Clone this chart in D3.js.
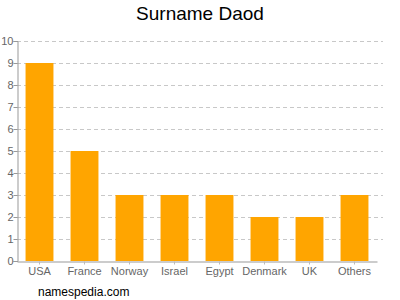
<!DOCTYPE html>
<meta charset="utf-8">
<style>
body { margin: 0; }
text { font-family: "Liberation Sans", Arial, sans-serif; }
</style>
<body>
<script src="https://d3js.org/d3.v7.min.js"></script>
<script>

// data
var countries = ["USA", "France", "Norway", "Israel", "Egypt", "Denmark", "UK", "Others"];
var counts = [9, 5, 3, 3, 3, 2, 2, 3];
var yTicks = [0, 1, 2, 3, 4, 5, 6, 7, 8, 9, 10];

var margin = {top: 41, right: 23, bottom: 39, left: 17},
    width = 400 - margin.left - margin.right,
    height = 300 - margin.top - margin.bottom;

var svg = d3.select("body").append("svg")
    .attr("width", 400)
    .attr("height", 300);

// title
svg.append("text")
    .attr("x", 200)
    .attr("y", 20)
    .attr("text-anchor", "middle")
    .style("font-size", "19px")
    .style("fill", "#000")
    .text("Surname Daod");

var g = svg.append("g")
    .attr("transform", `translate(${margin.left},${margin.top})`);

var x = d3.scaleBand()
    .domain(countries)
    .range([0, width])
    .paddingInner(0.38)
    .paddingOuter(0.19);

var y = d3.scaleLinear()
    .domain([0, 10])
    .range([height, 0]);

// gridlines
g.selectAll(".grid")
    .data(yTicks.filter(d => d > 0))
  .enter().append("line")
    .attr("x1", 0)
    .attr("x2", width + 6)
    .attr("y1", d => y(d) + 0.5)
    .attr("y2", d => y(d) + 0.5)
    .style("stroke", "#c8c8c8")
    .style("stroke-dasharray", "4,3");

// bars
g.selectAll(".bar")
    .data(counts)
  .enter().append("rect")
    .attr("x", (d, i) => x(countries[i]))
    .attr("y", d => y(d))
    .attr("width", x.bandwidth())
    .attr("height", d => height - y(d))
    .style("fill", "#ffa500");

// y axis
var yAxis = g.append("g")
    .attr("transform", "translate(0.5,0)")
    .call(d3.axisLeft(y).tickValues(yTicks).tickSize(4).tickFormat(d3.format("d")));
yAxis.select(".domain").attr("stroke", "#999");
yAxis.selectAll(".tick line").attr("stroke", "#999");
yAxis.selectAll("text").style("fill", "#666").style("font-size", "11px").attr("x", -4);

// x axis
var xAxis = g.append("g")
    .attr("transform", `translate(0,${height + 0.5})`)
    .call(d3.axisBottom(x).tickSize(3).tickSizeOuter(0));
xAxis.select(".domain").attr("stroke", "#999");
xAxis.selectAll(".tick line").attr("stroke", "#bbb");
xAxis.selectAll("text").style("fill", "#666").style("font-size", "11px").attr("y", 5).attr("dy", "0.8em");

// source
svg.append("text")
    .attr("x", 38)
    .attr("y", 296)
    .style("font-size", "12px")
    .style("fill", "#000")
    .text("namespedia.com");

</script>
</body>
</html>
